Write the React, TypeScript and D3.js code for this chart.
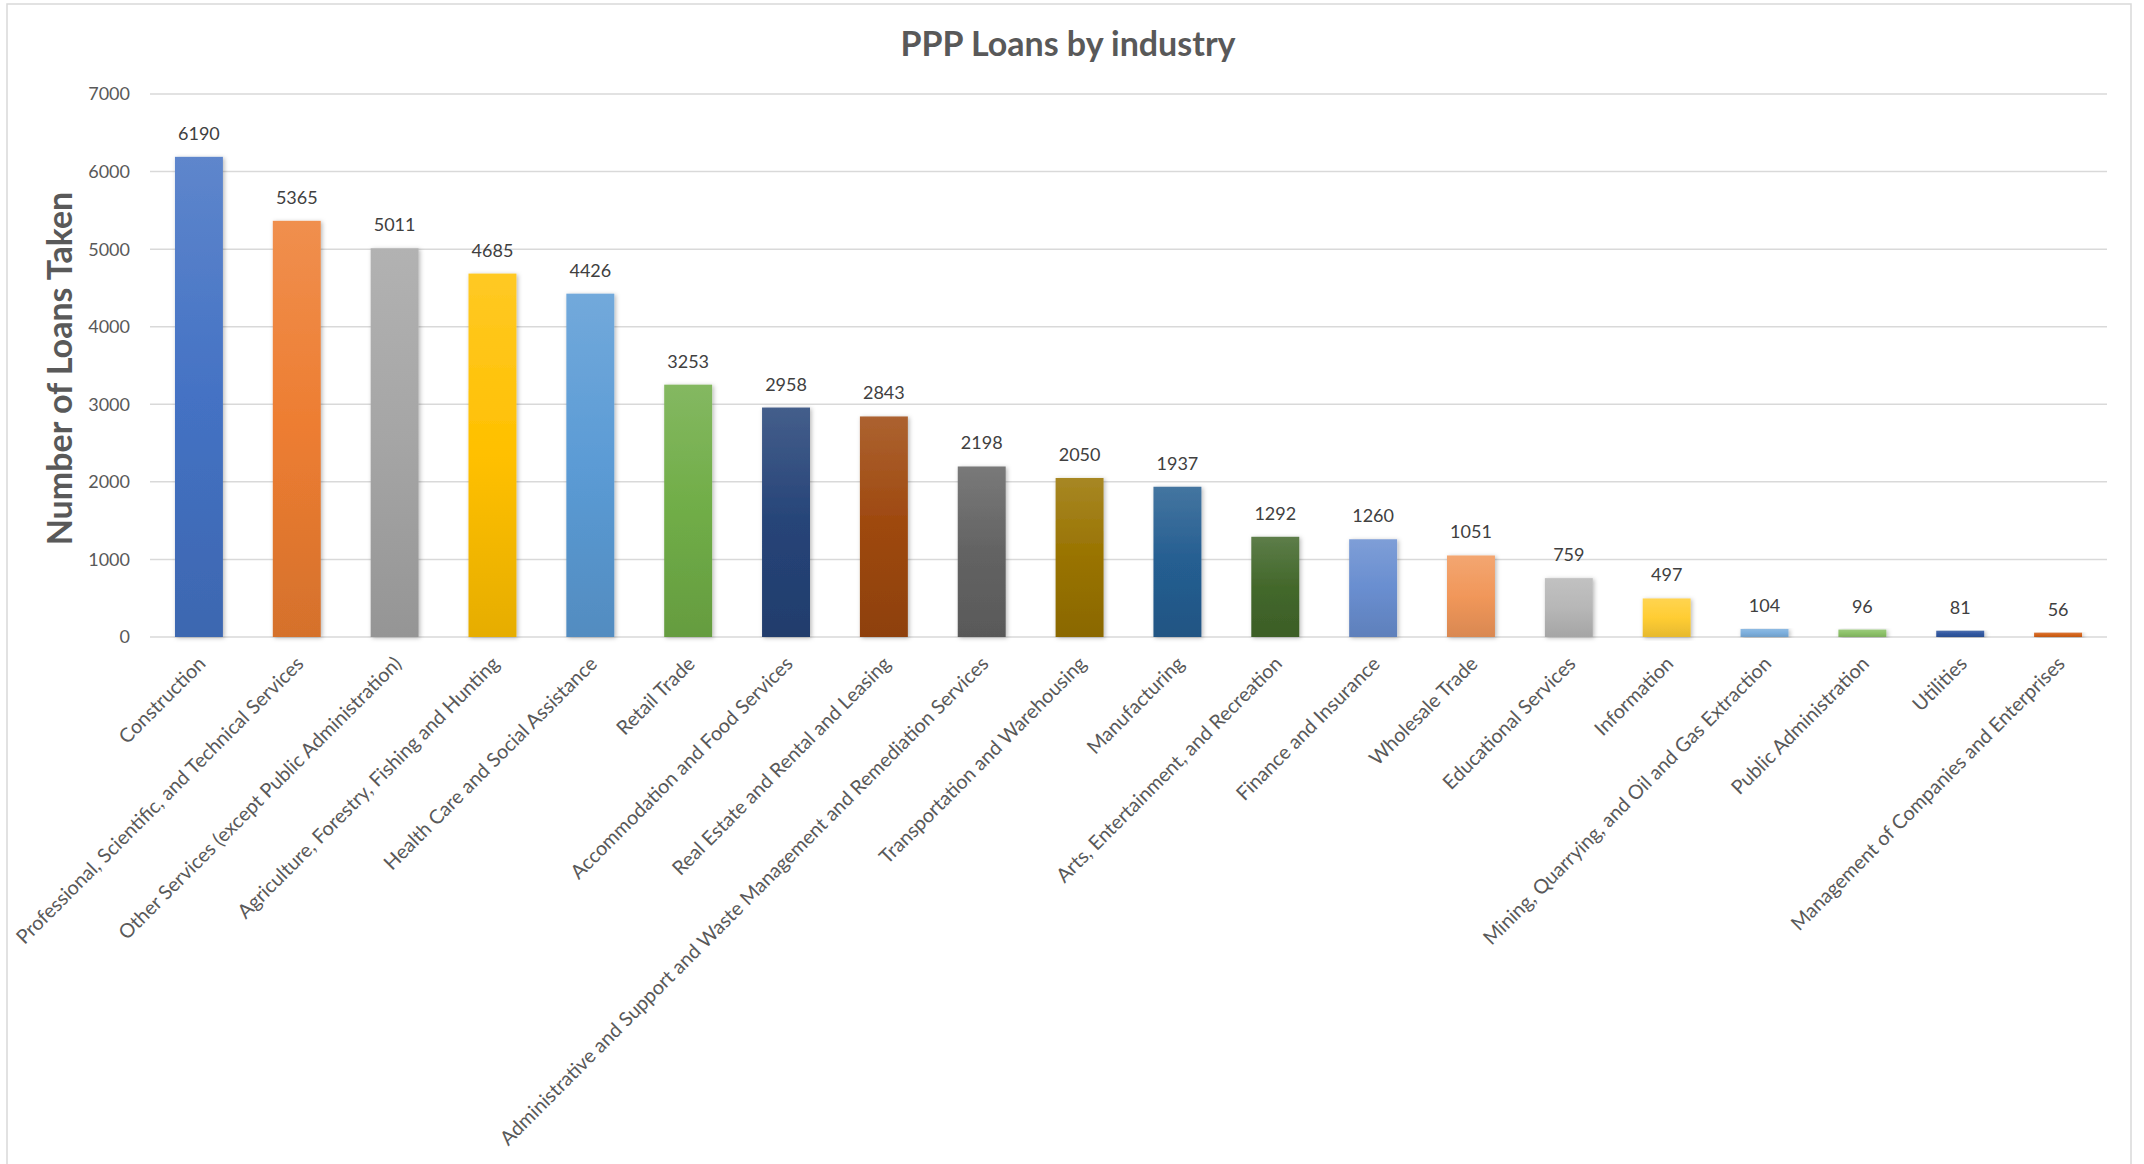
import React from "react";
import * as d3 from "d3";

const TITLE = "PPP Loans by industry";
const Y_TITLE = "Number of Loans Taken";

const categories: string[] = [
  "Construction",
  "Professional, Scientific, and Technical Services",
  "Other Services (except Public Administration)",
  "Agriculture, Forestry, Fishing and Hunting",
  "Health Care and Social Assistance",
  "Retail Trade",
  "Accommodation and Food Services",
  "Real Estate and Rental and Leasing",
  "Administrative and Support and Waste Management and Remediation Services",
  "Transportation and Warehousing",
  "Manufacturing",
  "Arts, Entertainment, and Recreation",
  "Finance and Insurance",
  "Wholesale Trade",
  "Educational Services",
  "Information",
  "Mining, Quarrying, and Oil and Gas Extraction",
  "Public Administration",
  "Utilities",
  "Management of Companies and Enterprises",
];

const loans: number[] = [
  6190, 5365, 5011, 4685, 4426, 3253, 2958, 2843, 2198, 2050, 1937, 1292, 1260,
  1051, 759, 497, 104, 96, 81, 56,
];

const barColors: string[] = [
  "#4472C4", "#ED7D31", "#A5A5A5", "#FFC000", "#5B9BD5", "#70AD47",
  "#264478", "#9E480E", "#636363", "#997300", "#255E91", "#43682B",
  "#698ED0", "#F1975A", "#B7B7B7", "#FFCD33", "#7CAFDD", "#8CC168",
  "#3057A0", "#D4621A",
];

const yTicks: number[] = [0, 1000, 2000, 3000, 4000, 5000, 6000, 7000];

const W = 2144;
const H = 1164;
const plotLeft = 150;
const plotRight = 2107;
const plotTop = 94;
const plotBottom = 637;

const FONT = "Lato, 'Open Sans', sans-serif";

export default function App() {
  const x = d3.scaleBand<number>()
    .domain(d3.range(categories.length))
    .range([plotLeft, plotRight])
    .paddingInner(0.51)
    .paddingOuter(0.255);
  const y = d3.scaleLinear().domain([0, 7000]).range([plotBottom, plotTop]);

  return (
    <svg
      width={W}
      height={H}
      style={{ position: "absolute", left: 0, top: 0, background: "#fff" }}
      fontFamily={FONT}
    >
      <defs>
        {barColors.map((c, i) => (
          <linearGradient key={i} id={`g${i}`} x1="0" y1="0" x2="0" y2="1">
            <stop offset="0" stopColor={d3.interpolateRgb(c, "#ffffff")(0.14)} />
            <stop offset="0.5" stopColor={c} />
            <stop offset="1" stopColor={d3.interpolateRgb(c, "#000000")(0.1)} />
          </linearGradient>
        ))}
        <filter id="shadow" x="-30%" y="-10%" width="160%" height="120%">
          <feDropShadow dx="1.5" dy="1" stdDeviation="2" floodColor="#000" floodOpacity="0.28" />
        </filter>
      </defs>

      <rect x={0} y={0} width={W} height={H} fill="#fff" />
      <rect x={7} y={4} width={2124} height={H + 20} fill="none" stroke="#D9D9D9" strokeWidth={1.5} />

      <text
        x={1068}
        y={56}
        textAnchor="middle"
        fontSize={34}
        fontWeight="bold"
        fill="#595959"
      >
        {TITLE}
      </text>

      {yTicks.map((t) => (
        <g key={t}>
          <line
            x1={plotLeft}
            x2={plotRight}
            y1={y(t)}
            y2={y(t)}
            stroke="#D9D9D9"
            strokeWidth={1.5}
          />
          <text
            x={130}
            y={y(t)}
            dy="0.36em"
            textAnchor="end"
            fontSize={18}
            fill="#595959"
          >
            {t}
          </text>
        </g>
      ))}

      <text
        transform={`translate(72, ${(plotTop + plotBottom) / 2 + 3}) rotate(-90)`}
        textAnchor="middle"
        fontSize={34}
        fontWeight="bold"
        fill="#595959"
      >
        {Y_TITLE}
      </text>

      {loans.map((v, i) => (
        <rect
          key={i}
          x={x(i)}
          y={y(v)}
          width={x.bandwidth()}
          height={y(0) - y(v)}
          fill={`url(#g${i})`}
          filter="url(#shadow)"
        />
      ))}

      {loans.map((v, i) => (
        <text
          key={i}
          x={(x(i) as number) + x.bandwidth() / 2}
          y={y(v) - 17}
          textAnchor="middle"
          fontSize={18}
          fill="#404040"
        >
          {v}
        </text>
      ))}

      {categories.map((c, i) => (
        <text
          key={i}
          transform={`translate(${(x(i) as number) + x.bandwidth() / 2 + 8}, ${plotBottom + 28}) rotate(-45)`}
          textAnchor="end"
          fontSize={19.8}
          fill="#595959"
        >
          {c}
        </text>
      ))}
    </svg>
  );
}
